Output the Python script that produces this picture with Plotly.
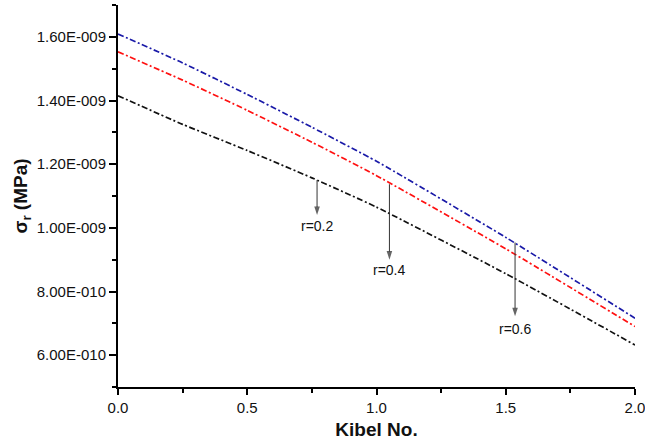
import plotly.graph_objects as go

# Data
kibel = [0.0, 0.25, 0.5, 0.75, 1.0, 1.5, 2.0]
sigma_r06 = [1.609e-9, 1.518e-9, 1.419e-9, 1.316e-9, 1.209e-9, 0.970e-9, 0.716e-9]  # blue
sigma_r04 = [1.553e-9, 1.464e-9, 1.369e-9, 1.269e-9, 1.164e-9, 0.934e-9, 0.690e-9]  # red
sigma_r02 = [1.415e-9, 1.325e-9, 1.243e-9, 1.157e-9, 1.065e-9, 0.856e-9, 0.632e-9]  # black

y_tickvals = [6e-10, 8e-10, 1.0e-9, 1.2e-9, 1.4e-9, 1.6e-9]
y_ticktext = ["6.00E-010", "8.00E-010", "1.00E-009", "1.20E-009", "1.40E-009", "1.60E-009"]
x_tickvals = [0, 0.5, 1.0, 1.5, 2.0]
x_ticktext = ["0.0", "0.5", "1.0", "1.5", "2.0"]

# Annotation arrows: label, x, tail y on curve, head y, label y
arrow_labels = ["r=0.2", "r=0.4", "r=0.6"]
arrow_x = [0.77, 1.05, 1.536]
arrow_tail = [1.150e-9, 1.137e-9, 0.954e-9]
arrow_head = [1.040e-9, 0.900e-9, 0.722e-9]
label_y = [1.006e-9, 0.869e-9, 0.681e-9]

fig = go.Figure()
dash = "6px,2.5px,2px,2.5px"
for ys, col in [(sigma_r06, "#1a1aa8"), (sigma_r04, "#ff1010"), (sigma_r02, "#111111")]:
    fig.add_trace(go.Scatter(x=kibel, y=ys, mode="lines", hoverinfo="skip",
                             line=dict(color=col, width=1.7, dash=dash, shape="spline", smoothing=0.5)))

for lab, x, yt, yh, yl in zip(arrow_labels, arrow_x, arrow_tail, arrow_head, label_y):
    fig.add_trace(go.Scatter(x=[x, x], y=[yt, yh], mode="lines+markers", hoverinfo="skip",
                             line=dict(color="#333333", width=1),
                             marker=dict(symbol="arrow", angleref="previous", size=[0, 9],
                                         color="#222222", line=dict(width=0))))

annotations = []
for lab, x, yl in zip(arrow_labels, arrow_x, label_y):
    annotations.append(dict(x=x, y=yl, xref="x", yref="y", text=lab, showarrow=False,
                            font=dict(family="Liberation Sans, Arial", size=14, color="#111111")))

fig.update_layout(
    width=645, height=446,
    margin=dict(l=118, r=10, t=5, b=59),
    paper_bgcolor="white", plot_bgcolor="white",
    showlegend=False,
    annotations=annotations,
    font=dict(family="Liberation Sans, Arial", size=15, color="#111111"),
)
fig.update_xaxes(
    range=[0, 2.0], tickvals=x_tickvals, ticktext=x_ticktext, ticklabeloverflow="allow",
    automargin=False,
    showgrid=False, zeroline=False, showline=True, linecolor="black", linewidth=2,
    ticks="outside", ticklen=6, tickwidth=1.5, tickcolor="black",
    minor=dict(dtick=0.25, tick0=0, ticks="outside", ticklen=4, tickwidth=1.5, tickcolor="black"),
    tickfont=dict(size=15, color="#111111"),
    title=dict(text="<b>Kibel No.</b>", font=dict(size=19, color="#111111"), standoff=8),
)
fig.update_yaxes(
    range=[5e-10, 1.7e-9], tickvals=y_tickvals, ticktext=y_ticktext,
    showgrid=False, zeroline=False, showline=True, linecolor="black", linewidth=2,
    ticks="outside", ticklen=7, tickwidth=1.5, tickcolor="black",
    minor=dict(dtick=1e-10, tick0=5e-10, ticks="outside", ticklen=4, tickwidth=1.5, tickcolor="black"),
    tickfont=dict(size=15, color="#111111"),
    title=dict(text="<b>σ<sub>r</sub> (MPa)</b>", font=dict(size=19, color="#111111"), standoff=4),
)

fig.write_html("out.html")
